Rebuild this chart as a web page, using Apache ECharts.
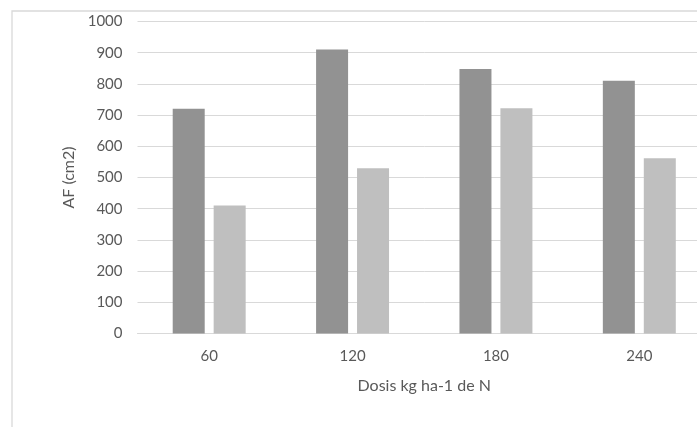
<!DOCTYPE html>
<html>
<head>
<meta charset="utf-8">
<script src="https://cdn.jsdelivr.net/npm/echarts@6/dist/echarts.min.js"></script>
<style>
  html, body { margin: 0; padding: 0; background: #fff; overflow: hidden; }
  #wrap { width: 697px; height: 427px; overflow: hidden; }
  /* the plot runs slightly past the right edge of the frame */
  #chart { width: 711px; height: 427px; }
</style>
</head>
<body>
<div id="wrap"><div id="chart"></div></div>
<script>
// Leaf area (AF) by nitrogen dose
const categories = ['60', '120', '180', '240'];
const seriesA = [720, 910, 848, 810];
const seriesB = [410, 530, 722, 562];
const yTicks = { min: 0, max: 1000, interval: 100 };

const textColor = '#595959';
const fontFamily = 'Lato, "Open Sans", sans-serif';

const chart = echarts.init(document.getElementById('chart'), null, { renderer: 'canvas' });
chart.setOption({
  backgroundColor: '#ffffff',
  animation: false,
  graphic: [{
    type: 'rect',
    shape: { x: 12, y: 11, width: 720, height: 440 },
    style: { fill: 'none', stroke: '#d9d9d9', lineWidth: 1.3 },
    silent: true,
    z: -1
  }],
  grid: { left: 137.5, right: 0, top: 21.5, bottom: 93.5, containLabel: false },
  xAxis: {
    type: 'category',
    data: categories,
    name: 'Dosis kg ha-1 de N',
    nameLocation: 'middle',
    nameGap: 44,
    nameTextStyle: { color: textColor, fontSize: 16, fontFamily },
    axisLine: { show: true, lineStyle: { color: '#d9d9d9', width: 1 } },
    axisTick: { show: false },
    axisLabel: { color: textColor, fontSize: 15, fontFamily, margin: 15 }
  },
  yAxis: {
    type: 'value',
    min: yTicks.min,
    max: yTicks.max,
    interval: yTicks.interval,
    name: 'AF (cm2)',
    nameLocation: 'middle',
    nameGap: 58,
    nameRotate: 90,
    nameTextStyle: { color: textColor, fontSize: 16, fontFamily },
    axisLine: { show: false },
    axisTick: { show: false },
    axisLabel: { color: textColor, fontSize: 15, fontFamily, margin: 15, formatter: v => String(v) },
    splitLine: { lineStyle: { color: '#d9d9d9', width: 1 } }
  },
  series: [
    {
      type: 'bar',
      data: seriesA,
      barWidth: 32,
      barGap: '28%',
      itemStyle: { color: '#929292' }
    },
    {
      type: 'bar',
      data: seriesB,
      barWidth: 32,
      barGap: '28%',
      itemStyle: { color: '#bfbfbf' }
    }
  ]
});
</script>
</body>
</html>
